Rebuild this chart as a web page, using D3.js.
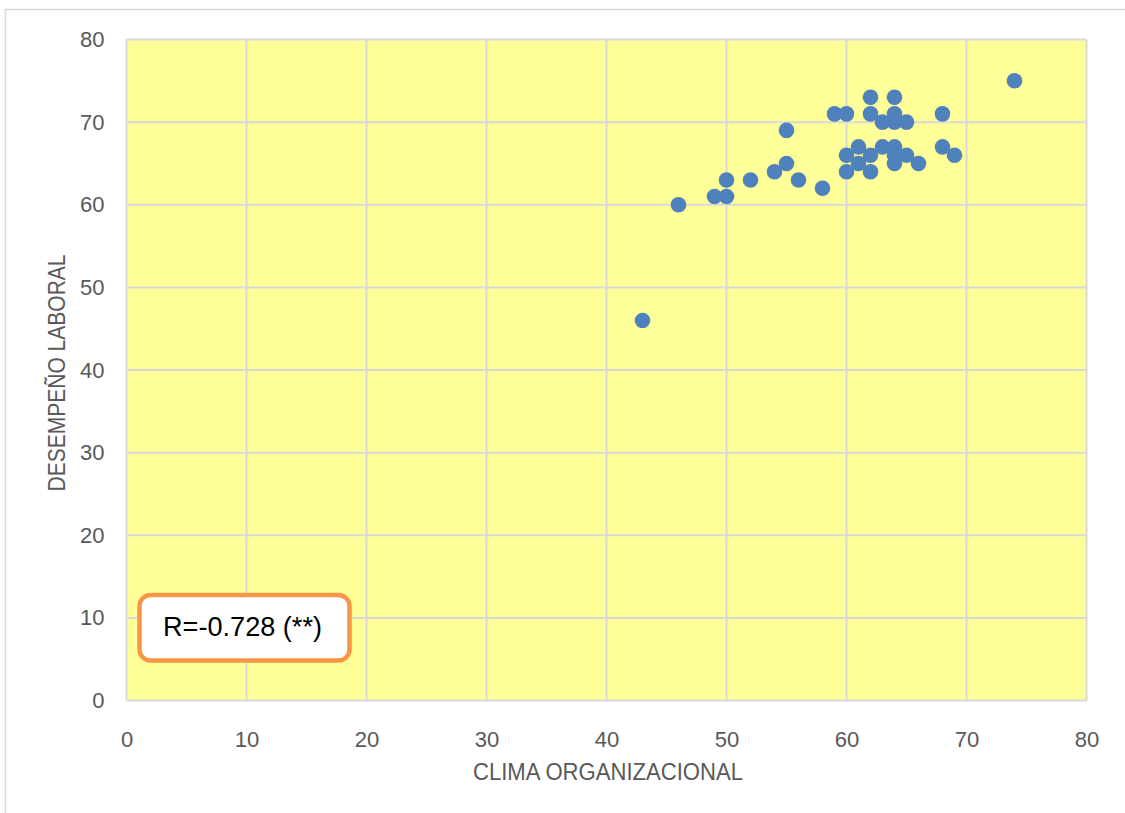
<!DOCTYPE html>
<html>
<head>
<meta charset="utf-8">
<script src="https://cdn.jsdelivr.net/npm/d3@7"></script>
<style>
  html, body { margin: 0; padding: 0; background: #ffffff; }
  svg { display: block; }
  text { font-family: "Liberation Sans", Arial, sans-serif; }
</style>
</head>
<body>
<svg id="chart" width="1125" height="813"></svg>
<script>
// Puntajes por trabajador: clima organizacional (x) y desempeño laboral (y)
const clima     = [43, 46, 49, 50, 50, 52, 54, 55, 55, 56, 58, 59, 60, 60, 60, 61, 61, 62, 62, 62, 62, 63, 63, 64, 64, 64, 64, 64, 64, 65, 65, 66, 68, 68, 69, 74];
const desempeno = [46, 60, 61, 61, 63, 63, 64, 65, 69, 63, 62, 71, 71, 66, 64, 67, 65, 73, 71, 66, 64, 70, 67, 73, 71, 70, 67, 66, 65, 70, 66, 65, 71, 67, 66, 75];
const xTicks = [0, 10, 20, 30, 40, 50, 60, 70, 80];
const yTicks = [0, 10, 20, 30, 40, 50, 60, 70, 80];
const xTitle = "CLIMA ORGANIZACIONAL";
const yTitle = "DESEMPEÑO LABORAL";
const rLabel = "R=-0.728 (**)";

const svg = d3.select("#chart");

// Marco exterior del gráfico
svg.append("rect")
  .attr("x", 5.5).attr("y", 9.5)
  .attr("width", 1200).attr("height", 900)
  .attr("fill", "#ffffff")
  .attr("stroke", "#d9d9d9")
  .attr("stroke-width", 1.5);

const plot = { left: 126.5, right: 1086.5, top: 39.5, bottom: 700.5 };

const x = d3.scaleLinear().domain([0, 80]).range([plot.left, plot.right]);
const y = d3.scaleLinear().domain([0, 80]).range([plot.bottom, plot.top]);

// Área de trazado
svg.append("rect")
  .attr("x", plot.left).attr("y", plot.top)
  .attr("width", plot.right - plot.left).attr("height", plot.bottom - plot.top)
  .attr("fill", "#ffff99");

// Líneas de cuadrícula
const grid = svg.append("g");
grid.selectAll(".gx").data(xTicks).join("line")
  .attr("x1", d => x(d)).attr("x2", d => x(d))
  .attr("y1", plot.top).attr("y2", plot.bottom)
  .attr("stroke", "#d9d9d9").attr("stroke-width", 2);
grid.selectAll(".gy").data(yTicks).join("line")
  .attr("x1", plot.left).attr("x2", plot.right)
  .attr("y1", d => y(d)).attr("y2", d => y(d))
  .attr("stroke", "#d9d9d9").attr("stroke-width", 2);

// Ejes (solo etiquetas)
const xAxis = svg.append("g")
  .attr("transform", `translate(0,${plot.bottom})`)
  .call(d3.axisBottom(x).tickValues(xTicks).tickSize(0).tickPadding(31));
const yAxis = svg.append("g")
  .attr("transform", `translate(${plot.left},0)`)
  .call(d3.axisLeft(y).tickValues(yTicks).tickSize(0).tickPadding(22));
[xAxis, yAxis].forEach(g => {
  g.select(".domain").remove();
  g.selectAll("text")
    .attr("fill", "#595959")
    .style("font-size", "22px")
    .style("font-family", "'Liberation Sans', Arial, sans-serif");
});

// Puntos
svg.append("g").selectAll("circle")
  .data(clima.map((c, i) => ({ c, d: desempeno[i] })))
  .join("circle")
  .attr("cx", p => x(p.c))
  .attr("cy", p => y(p.d))
  .attr("r", 7.8)
  .attr("fill", "#4f81bd");

// Títulos de ejes
svg.append("text")
  .attr("x", 608).attr("y", 780)
  .attr("text-anchor", "middle")
  .attr("fill", "#595959")
  .style("font-size", "23px")
  .attr("textLength", 270)
  .attr("lengthAdjust", "spacingAndGlyphs")
  .text(xTitle);

svg.append("text")
  .attr("transform", "translate(65,373) rotate(-90)")
  .attr("text-anchor", "middle")
  .attr("fill", "#595959")
  .style("font-size", "23px")
  .attr("textLength", 237)
  .attr("lengthAdjust", "spacingAndGlyphs")
  .text(yTitle);

// Recuadro con el coeficiente de correlación
svg.append("rect")
  .attr("x", 139.5).attr("y", 595)
  .attr("width", 210).attr("height", 65.5)
  .attr("rx", 11).attr("ry", 11)
  .attr("fill", "#ffffff")
  .attr("stroke", "#f79646")
  .attr("stroke-width", 4.5);

svg.append("text")
  .attr("x", 242.5).attr("y", 636)
  .attr("text-anchor", "middle")
  .attr("fill", "#000000")
  .style("font-size", "27px")
  .attr("textLength", 159)
  .attr("lengthAdjust", "spacingAndGlyphs")
  .text(rLabel);
</script>
</body>
</html>
